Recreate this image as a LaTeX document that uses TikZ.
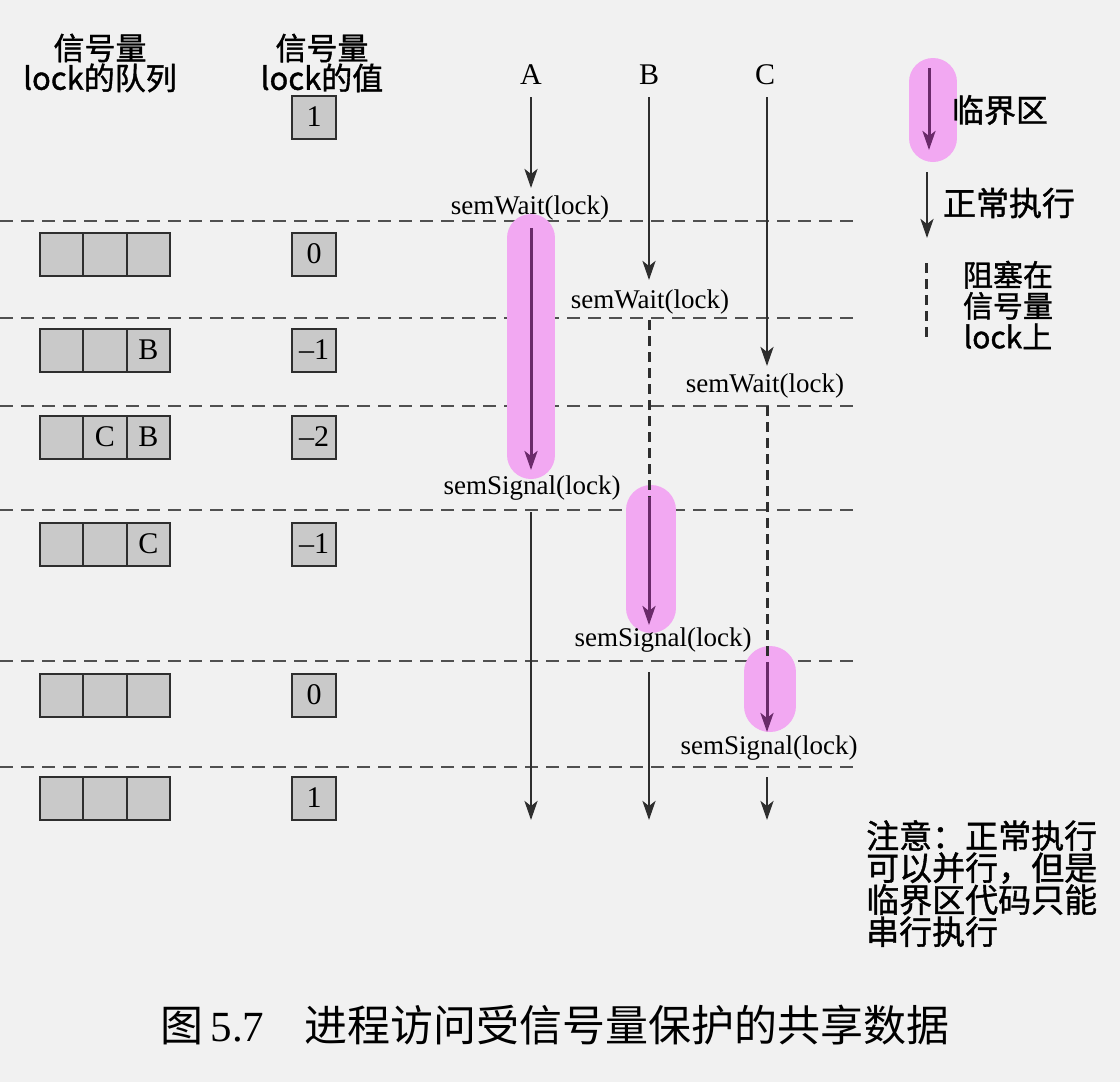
\documentclass[tikz,border=0pt]{standalone}
\usepackage{fontspec}
\setmainfont{Liberation Serif}
\newfontfamily\cjk{Noto Sans CJK SC}
\newfontfamily\cjkb{Noto Sans CJK SC}[FakeBold=1.2]
\usetikzlibrary{arrows.meta}
\definecolor{bgc}{HTML}{F1F1F1}
\definecolor{ink}{HTML}{2E2E2E}
\definecolor{hlc}{HTML}{F2A8F2}
\definecolor{critc}{HTML}{6A2A6A}
\definecolor{cellc}{HTML}{C9C9C9}
\definecolor{gridc}{HTML}{505050}
\tikzset{
  sepline/.style={draw=gridc, line width=2pt, dash pattern=on 13pt off 8pt},
  tip/.style={-{Stealth[length=19pt,width=13pt,inset=5pt]}},
  proc/.style={draw=ink, line width=2.8pt, tip},
  blk/.style={draw=ink, line width=3pt, dash pattern=on 10pt off 6pt},
  hilite/.style={draw=hlc, line width=#1, line cap=round},
  critarr/.style={draw=critc, line width=3pt, tip},
  cellbox/.style={draw=ink, fill=cellc, line width=2pt, minimum width=43.3pt, minimum height=43pt, inner sep=0pt, font=\fontsize{30}{30}\selectfont},
  lbl/.style={font=\fontsize{27}{27}\selectfont, inner sep=1pt},
  proclbl/.style={font=\fontsize{30}{30}\selectfont, inner sep=1pt},
  cjktext/.style 2 args={font=\cjkb\fontsize{#1}{#2}\selectfont, align=center, inner sep=0pt},
}
\begin{document}
\begin{tikzpicture}[x=1pt,y=-1pt]
\fill[bgc] (0,0) rectangle (1120,1082);
\useasboundingbox (0,0) rectangle (1120,1082);

% headers
\node[cjktext={31}{30}] (h1) at (100,63) {信号量\\lock的队列};
\node[cjktext={31}{30}] (h2) at (322,63) {信号量\\lock的值};

% separator lines
\foreach \yy in {221,318,406,510,661,767}
  \draw[sepline] (0,\yy) -- (853,\yy);

% initial value
\node[cellbox] (v0) at (314,117) {1};

% rows
\foreach \r/\yy/\qa/\qb/\qc/\val in {1/254/{}/{}/{}/0, 2/350/{}/{}/B/\textendash 1, 3/437/{}/C/B/\textendash 2, 4/544/{}/{}/C/\textendash 1, 5/695/{}/{}/{}/0, 6/798/{}/{}/{}/1}{
  \node[cellbox] (q\r a) at (61.7,\yy) {\qa};
  \node[cellbox] (q\r b) at (105,\yy) {\qb};
  \node[cellbox] (q\r c) at (148.3,\yy) {\qc};
  \node[cellbox] (v\r) at (314,\yy) {\val};
}

% highlights
\draw[hilite=48pt] (531,238) -- (531,455);
\draw[hilite=50pt] (651,510) -- (651,608);
\draw[hilite=52pt] (770,672) -- (770,706);
\draw[hilite=48pt] (933,82) -- (933,138);

% process labels
\node[proclbl] (A) at (531,75) {A};
\node[proclbl] (B) at (649,75) {B};
\node[proclbl] (C) at (765,75) {C};

\node[lbl] (wA) at (530,208) {semWait(lock)};
\node[lbl] (sA) at (532,488) {semSignal(lock)};
\node[lbl] (wB) at (650,302) {semWait(lock)};
\node[lbl] (sB) at (663,640) {semSignal(lock)};
\node[lbl] (wC) at (765,386) {semWait(lock)};
\node[lbl] (sC) at (769,748) {semSignal(lock)};

% coordinates of segment ends
\coordinate (A0) at (531,97);  \coordinate (A1) at (531,188);
\coordinate (A2) at (531,228); \coordinate (A3) at (531,470);
\coordinate (A4) at (531,512); \coordinate (A5) at (531,820);
\coordinate (B0) at (649,97);  \coordinate (B1) at (649,280);
\coordinate (B2) at (649,320); \coordinate (B3) at (649,497);
\coordinate (B4) at (649,625);
\coordinate (B5) at (649,672); \coordinate (B6) at (649,820);
\coordinate (C0) at (767,97);  \coordinate (C1) at (767,366);
\coordinate (C2) at (767,406); \coordinate (C3) at (767,662);
\coordinate (C4) at (767,732);
\coordinate (C5) at (767,777); \coordinate (C6) at (767,820);

% process A
\draw[proc] (A0) -- (A1);
\draw[critarr] (A2) -- (A3);
\draw[proc] (A4) -- (A5);
% process B
\draw[proc] (B0) -- (B1);
\draw[blk] (B2) -- (B3);
\draw[critarr] (B3) -- (B4);
\draw[proc] (B5) -- (B6);
% process C
\draw[proc] (C0) -- (C1);
\draw[blk] (C2) -- (C3);
\draw[critarr] (C3) -- (C4);
\draw[proc] (C5) -- (C6);

% legend
\coordinate (L0) at (929,68);  \coordinate (L1) at (929,150);
\coordinate (L2) at (927,172); \coordinate (L3) at (927,238);
\coordinate (L4) at (926,263); \coordinate (L5) at (926,340);
\draw[critarr] (L0) -- (L1);
\draw[proc] (L2) -- (L3);
\draw[blk] (L4) -- (L5);
\node[cjktext={32}{32}] (lg1) at (1000,110) {临界区};
\node[cjktext={33}{32}] (lg2) at (1009,203) {正常执行};
\node[cjktext={30}{31}] (lg3) at (1008,305) {阻塞在\\信号量\\lock上};

% note
\node[cjktext={33}{32}, align=left, anchor=north west] (note) at (866,820) {注意：正常执行\\可以并行，但是\\临界区代码只能\\串行执行};

% caption
\node[inner sep=0pt, font=\fontsize{43}{43}\selectfont] (cap) at (555,1025) {{\cjk 图}\,5.7\hspace{40pt}{\cjk 进程访问受信号量保护的共享数据}};
\end{tikzpicture}
\end{document}
